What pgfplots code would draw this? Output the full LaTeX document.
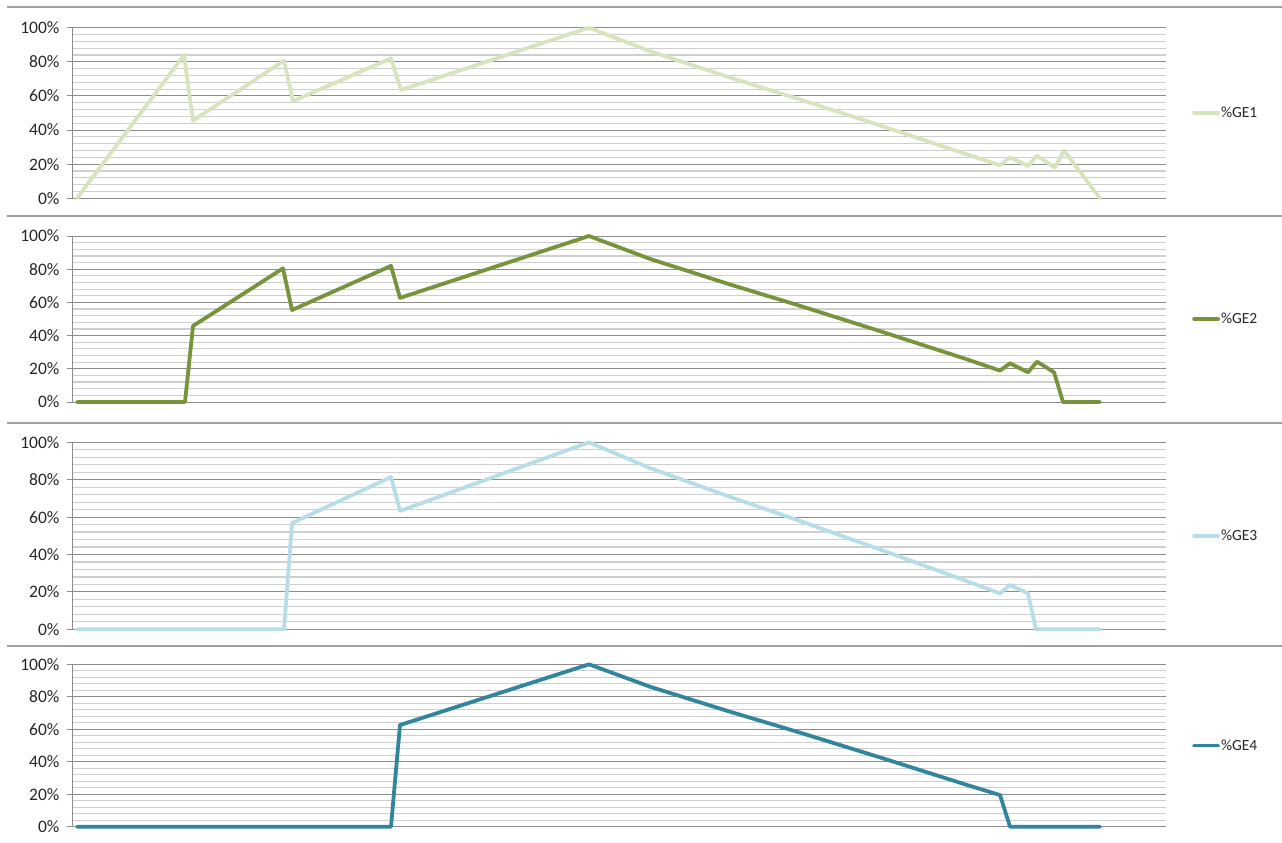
\documentclass[border=0pt]{standalone}
\usepackage{pgfplots}
\pgfplotsset{compat=1.18}
\usepackage{fontspec}
\setmainfont{Carlito}
\definecolor{majgray}{HTML}{8C8C8C}
\definecolor{mingray}{HTML}{CFCFCF}
\definecolor{sepgray}{HTML}{A0A0A0}
\definecolor{geA}{HTML}{D7E4BD}
\definecolor{geB}{HTML}{77933C}
\definecolor{geC}{HTML}{B7DEE8}
\definecolor{geD}{HTML}{31859C}
\pgfplotsset{
  panel/.style={
    scale only axis, width=1093pt,
    xmin=73, xmax=1166, ymin=0, ymax=100,
    axis x line=none, axis y line=left,
    axis line style={-, color=majgray, line width=1pt},
    xtick=\empty,
    ytick={0,20,40,60,80,100},
    yticklabels={0\%,20\%,40\%,60\%,80\%,100\%},
    minor y tick num=4,
    ymajorgrids, yminorgrids,
    major grid style={color=majgray, line width=1pt},
    minor grid style={color=mingray, line width=1.2pt},
    tick align=outside, ytick pos=left,
    major tick length=6pt, minor tick length=0pt,
    major tick style={color=majgray, line width=1pt},
    yticklabel style={font=\fontsize{17.5}{19}\selectfont, text=black!85, xshift=-4pt},
    clip=false,
    legend style={at={(axis description cs:1.0238,0.5)}, anchor=west, draw=none, fill=none,
      inner sep=0pt, font=\fontsize{15.5}{17}\selectfont, text=black!85,
      nodes={inner sep=1pt}},
    legend image code/.code={\draw[##1] (0pt,0pt) -- (24pt,0pt);},
  },
  ser/.style={line width=3.8pt, line join=round, line cap=round, mark=none, color=#1},
}
\begin{document}
\begin{tikzpicture}
\path[use as bounding box] (0pt,0pt) rectangle (1282pt,-843pt);
\foreach \yy in {7,216,423,646} {\draw[sepgray, line width=1.5pt] (7pt,-\yy pt) -- (1282pt,-\yy pt);}
\begin{axis}[panel, at={(73pt,-27.7pt)}, anchor=north west, height=170.6pt]
\addplot[ser=geA] coordinates {(77,0) (184,84) (193,45.5) (284,80.7) (293,57) (391,82) (401,63.5) (589,100) (650,86.2) (730,70.8) (797,58.5) (883,42.1) (967,25.7) (1000,19.4) (1010,24) (1028,19) (1037,25) (1055,18) (1064,28) (1100,0)};
\addlegendentry{\%GE1}
\end{axis}
\begin{axis}[panel, at={(73pt,-236pt)}, anchor=north west, height=166pt]
\addplot[ser=geB] coordinates {(77,0) (185,0) (193,45.8) (283,80.5) (292,55.4) (391,82) (400,62.7) (589,100) (650,86.2) (730,70.8) (797,58.5) (883,42.1) (967,25.7) (1000,18.9) (1010,23.3) (1028,17.9) (1037,24.3) (1054,17.9) (1063,0) (1100,0)};
\addlegendentry{\%GE2}
\end{axis}
\begin{axis}[panel, at={(73pt,-442.3pt)}, anchor=north west, height=187pt]
\addplot[ser=geC] coordinates {(77,0) (284,0) (292,56.8) (391,81.4) (400,63.3) (589,100) (650,86.2) (730,70.8) (797,58.5) (883,42.1) (967,25.7) (1000,19.2) (1010,23.7) (1028,19.2) (1036,0) (1100,0)};
\addlegendentry{\%GE3}
\end{axis}
\begin{axis}[panel, at={(73pt,-664.3pt)}, anchor=north west, height=162.4pt]
\addplot[ser=geD] coordinates {(77,0) (391,0) (400,62.6) (589,100) (650,86.2) (730,70.8) (797,58.5) (883,42.1) (967,25.7) (1000,19.5) (1010,0) (1100,0)};
\addlegendentry{\%GE4}
\end{axis}
\end{tikzpicture}
\end{document}
